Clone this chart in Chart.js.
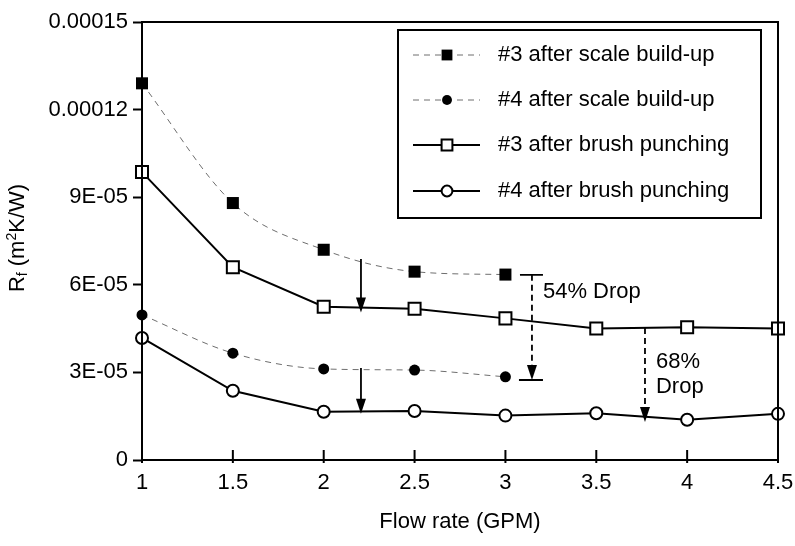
<!DOCTYPE html>
<html>
<head>
<meta charset="utf-8">
<script src="https://cdn.jsdelivr.net/npm/chart.js@4"></script>
<style>
  body { margin: 0; background: #fff; }
</style>
</head>
<body>
<canvas id="foulingChart" width="795" height="546"></canvas>
<script>
// Flow rate (GPM) and fouling resistance Rf (m2K/W)
const flowRate = [1, 1.5, 2, 2.5, 3, 3.5, 4, 4.5];
const scaleNo3 = [1.29e-4, 8.8e-5, 7.2e-5, 6.45e-5, 6.35e-5];
const scaleNo4 = [4.97e-5, 3.66e-5, 3.12e-5, 3.08e-5, 2.85e-5];
const brushNo3 = [9.86e-5, 6.6e-5, 5.25e-5, 5.18e-5, 4.85e-5, 4.5e-5, 4.55e-5, 4.5e-5];
const brushNo4 = [4.18e-5, 2.37e-5, 1.65e-5, 1.68e-5, 1.52e-5, 1.6e-5, 1.38e-5, 1.58e-5];
const seriesLabels = ['#3 after scale build-up', '#4 after scale build-up', '#3 after brush punching', '#4 after brush punching'];
const xTickLabels = ['1', '1.5', '2', '2.5', '3', '3.5', '4', '4.5'];
const yTickLabels = ['0', '3E-05', '6E-05', '9E-05', '0.00012', '0.00015'];

const FONT = 'Liberation Sans';
const FSIZE = 22;

function pairs(ys) {
  return ys.map((y, i) => ({ x: flowRate[i], y: y }));
}

const ctx = document.getElementById('foulingChart');

// arrows: x in GPM, from/to in Rf units
const solidArrows = [
  { x: 2.205, from: 6.88e-5, to: 5.05e-5 },
  { x: 2.205, from: 3.15e-5, to: 1.58e-5 }
];
const dashedArrows = [
  { x: 3.146, from: 6.34e-5, to: 2.74e-5, caps: true, text: ['54% Drop'], textY: [5.75e-5] },
  { x: 3.768, from: 4.52e-5, to: 1.3e-5, caps: false, text: ['68%', 'Drop'], textY: [3.36e-5, 2.5e-5] }
];

function drawArrow(c, x, y1, y2, dashed) {
  const head = 15, half = 5;
  c.save();
  c.strokeStyle = '#000';
  c.fillStyle = '#000';
  c.lineWidth = 1.8;
  if (dashed) c.setLineDash([6, 4]);
  c.beginPath();
  c.moveTo(x, y1);
  c.lineTo(x, y2 - head + 2);
  c.stroke();
  c.setLineDash([]);
  c.beginPath();
  c.moveTo(x, y2);
  c.lineTo(x - half, y2 - head);
  c.lineTo(x + half, y2 - head);
  c.closePath();
  c.fill();
  c.restore();
}

const extras = {
  id: 'extras',
  afterDraw(chart) {
    const c = chart.ctx;
    const a = chart.chartArea;
    const xs = chart.scales.x, ys = chart.scales.y;

    c.save();
    // frame
    c.strokeStyle = '#000';
    c.lineWidth = 2;
    c.strokeRect(a.left, a.top, a.right - a.left, a.bottom - a.top);

    // inward x ticks
    flowRate.forEach(v => {
      const px = xs.getPixelForValue(v);
      c.beginPath();
      c.moveTo(px, a.bottom + 3);
      c.lineTo(px, a.bottom - 10);
      c.stroke();
    });

    // arrows
    solidArrows.forEach(ar => {
      drawArrow(c, xs.getPixelForValue(ar.x), ys.getPixelForValue(ar.from), ys.getPixelForValue(ar.to), false);
    });
    c.font = FSIZE + 'px "' + FONT + '"';
    c.textBaseline = 'middle';
    c.textAlign = 'left';
    dashedArrows.forEach(ar => {
      const px = xs.getPixelForValue(ar.x);
      const y1 = ys.getPixelForValue(ar.from), y2 = ys.getPixelForValue(ar.to);
      drawArrow(c, px, y1, y2, true);
      if (ar.caps) {
        c.lineWidth = 1.8;
        c.beginPath();
        c.moveTo(px - 12, y1); c.lineTo(px + 11, y1);
        c.moveTo(px - 13, y2); c.lineTo(px + 11, y2);
        c.stroke();
      }
      c.fillStyle = '#000';
      ar.text.forEach((t, i) => c.fillText(t, px + 11, ys.getPixelForValue(ar.textY[i])));
    });

    // legend
    const box = { left: 398, top: 30, right: 761, bottom: 218 };
    c.fillStyle = '#fff';
    c.fillRect(box.left, box.top, box.right - box.left, box.bottom - box.top);
    c.lineWidth = 2;
    c.strokeStyle = '#000';
    c.strokeRect(box.left, box.top, box.right - box.left, box.bottom - box.top);
    const rowY = [55, 100, 145, 191];
    chart.data.datasets.forEach((ds, i) => {
      const y = rowY[i];
      c.save();
      c.strokeStyle = ds.borderColor;
      c.lineWidth = ds.borderWidth;
      c.setLineDash(ds.borderDash || []);
      c.beginPath();
      c.moveTo(413, y); c.lineTo(480, y);
      c.stroke();
      c.setLineDash([]);
      c.fillStyle = ds.pointBackgroundColor;
      c.strokeStyle = ds.pointBorderColor;
      c.lineWidth = ds.pointBorderWidth;
      c.beginPath();
      const r = ds.pointRadius * 0.9;
      if (ds.pointStyle === 'rect') {
        const s = r * Math.SQRT1_2;
        c.rect(447 - s, y - s, 2 * s, 2 * s);
      } else {
        c.arc(447, y, r, 0, Math.PI * 2);
      }
      c.fill();
      if (ds.pointBorderWidth) c.stroke();
      c.restore();
      c.fillStyle = '#000';
      c.fillText(ds.label, 498, y);
    });

    // y axis title with sub/superscript
    c.translate(18, 238);
    c.rotate(-Math.PI / 2);
    const parts = [
      { t: 'R', size: 22, dy: 0 },
      { t: 'f', size: 14, dy: 5 },
      { t: ' (m', size: 22, dy: 0 },
      { t: '2', size: 14, dy: -6 },
      { t: 'K/W)', size: 22, dy: 0 }
    ];
    let total = 0;
    parts.forEach(p => { c.font = p.size + 'px "' + FONT + '"'; p.w = c.measureText(p.t).width; total += p.w; });
    let x = -total / 2;
    c.fillStyle = '#000';
    parts.forEach(p => {
      c.font = p.size + 'px "' + FONT + '"';
      c.fillText(p.t, x, p.dy);
      x += p.w;
    });
    c.restore();
  }
};

new Chart(ctx, {
  type: 'line',
  data: {
    datasets: [
      {
        label: seriesLabels[0],
        data: pairs(scaleNo3),
        borderColor: '#6e6e6e',
        borderWidth: 1,
        borderDash: [6, 5],
        cubicInterpolationMode: 'monotone',
        pointStyle: 'rect',
        pointRadius: 8.5,
        pointBackgroundColor: '#000',
        pointBorderColor: '#000',
        pointBorderWidth: 0,
        clip: false
      },
      {
        label: seriesLabels[1],
        data: pairs(scaleNo4),
        borderColor: '#6e6e6e',
        borderWidth: 1,
        borderDash: [6, 5],
        cubicInterpolationMode: 'monotone',
        pointStyle: 'circle',
        pointRadius: 5.5,
        pointBackgroundColor: '#000',
        pointBorderColor: '#000',
        pointBorderWidth: 0,
        clip: false
      },
      {
        label: seriesLabels[2],
        data: pairs(brushNo3),
        borderColor: '#000',
        borderWidth: 2,
        tension: 0,
        pointStyle: 'rect',
        pointRadius: 8.5,
        pointBackgroundColor: '#fff',
        pointBorderColor: '#000',
        pointBorderWidth: 2,
        clip: false
      },
      {
        label: seriesLabels[3],
        data: pairs(brushNo4),
        borderColor: '#000',
        borderWidth: 2,
        tension: 0,
        pointStyle: 'circle',
        pointRadius: 6,
        pointBackgroundColor: '#fff',
        pointBorderColor: '#000',
        pointBorderWidth: 2,
        clip: false
      }
    ]
  },
  options: {
    responsive: false,
    animation: false,
    layout: { padding: { top: 22, right: 17, left: 0, bottom: 0 } },
    plugins: {
      legend: { display: false },
      tooltip: { enabled: false }
    },
    scales: {
      x: {
        type: 'linear',
        min: 1,
        max: 4.5,
        afterFit: s => { s.height = 86; s.paddingLeft = 0; s.paddingRight = 0; },
        border: { display: false },
        grid: { display: false },
        ticks: {
          stepSize: 0.5,
          padding: 2,
          color: '#000',
          font: { family: FONT, size: FSIZE },
          callback: (v, i) => xTickLabels[i]
        },
        title: {
          display: true,
          text: 'Flow rate (GPM)',
          color: '#000',
          font: { family: FONT, size: FSIZE },
          padding: { top: 4, bottom: 11 }
        }
      },
      y: {
        min: 0,
        max: 0.00015,
        afterFit: s => { s.width = 142; },
        border: { display: false },
        grid: {
          drawOnChartArea: false,
          tickLength: 9,
          tickWidth: 2,
          tickColor: '#000'
        },
        ticks: {
          stepSize: 0.00003,
          padding: 5,
          color: '#000',
          font: { family: FONT, size: FSIZE },
          callback: (v, i) => yTickLabels[i]
        }
      }
    }
  },
  plugins: [extras]
});
</script>
</body>
</html>
